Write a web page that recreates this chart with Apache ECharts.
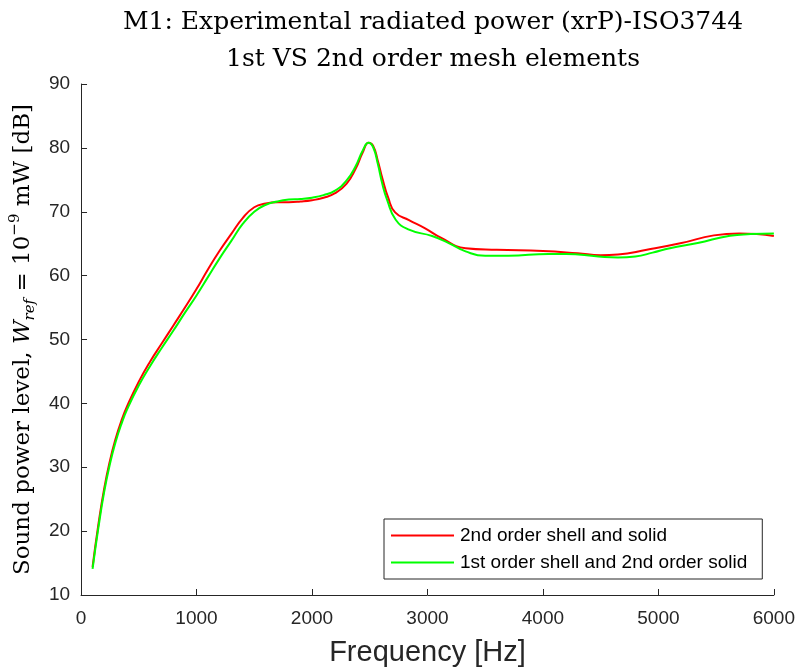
<!DOCTYPE html>
<html>
<head>
<meta charset="utf-8">
<script src="https://cdn.jsdelivr.net/npm/echarts@6/dist/echarts.min.js"></script>
<style>html,body{margin:0;padding:0;background:#fff;}#c{width:798px;height:672px;}</style>
</head>
<body>
<div id="c"></div>
<script>
const seriesNames = ['2nd order shell and solid', '1st order shell and 2nd order solid'];
const xTicks = [0, 1000, 2000, 3000, 4000, 5000, 6000];
const yTicks = [10, 20, 30, 40, 50, 60, 70, 80, 90];

const redFreq = [100,150,200,250,300,350,400,500,600,700,800,900,1000,1100,1200,1300,1400,1500,1600,1700,1800,1900,2000,2100,2200,2300,2380,2440,2490,2530,2570,2610,2660,2720,2840,2980,3120,3330,3600,4000,4300,4500,4650,4900,5200,5480,5700,5850,6000];
const redLevel = [14.4,21.0,26.6,31.0,34.5,37.3,39.6,43.4,46.6,49.4,52.2,55,57.9,61,63.9,66.5,69,70.7,71.3,71.5,71.5,71.6,71.8,72.2,72.9,74.4,76.8,79.3,80.8,80.3,78,75.2,72.2,69.9,68.7,67.4,65.9,64.3,64.05,63.85,63.5,63.2,63.3,64.05,65.1,66.3,66.6,66.5,66.2];

const greenFreq = [100,150,200,250,300,350,400,500,600,700,800,900,1000,1100,1200,1300,1400,1500,1600,1700,1800,1900,2000,2100,2200,2300,2380,2440,2490,2530,2570,2610,2650,2725,2840,3040,3184,3330,3500,3700,4050,4200,4480,4650,4800,4950,5100,5340,5620,5800,6000];
const greenLevel = [14.1,20.5,26.1,30.5,34.0,36.8,39.1,42.8,45.9,48.7,51.4,54.2,56.9,59.8,62.7,65.4,68.1,70,71.1,71.6,71.9,72,72.2,72.6,73.3,74.9,77.2,79.6,80.8,80.1,77.5,74.3,71.9,68.75,67.2,66.2,65.1,63.8,63.1,63.1,63.4,63.4,63.0,62.85,63.0,63.6,64.3,65.1,66.25,66.5,66.6];

const redData = redFreq.map((f, i) => [f, redLevel[i]]);
const greenData = greenFreq.map((f, i) => [f, greenLevel[i]]);

const axisColor = '#262626';
const chart = echarts.init(document.getElementById('c'), null, {renderer: 'canvas'});
chart.setOption({
  animation: false,
  backgroundColor: '#ffffff',
  title: {
    text: 'M1: Experimental radiated power (xrP)-ISO3744\n1st VS 2nd order mesh elements',
    left: 428, top: -1, textAlign: 'center',
    textStyle: {fontFamily: 'DejaVu Serif', fontWeight: 'normal', fontSize: 25, lineHeight: 37, color: '#000'}
  },
  grid: {left: 80, right: 21, top: 84, bottom: 76, containLabel: false},
  legend: {
    orient: 'vertical', left: 384, top: 519,
    data: seriesNames,
    icon: 'rect', itemWidth: 63, itemHeight: 2, itemGap: 8,
    padding: [7, 15, 7, 7],
    backgroundColor: '#fff', borderColor: axisColor, borderWidth: 1,
    textStyle: {fontFamily: 'Liberation Sans', fontSize: 19, color: '#000', padding: [0,0,0,1]}
  },
  xAxis: {
    type: 'value', min: 0, max: 6000, interval: 1000,
    name: 'Frequency [Hz]', nameLocation: 'middle', nameGap: 43,
    nameTextStyle: {fontFamily: 'Liberation Sans', fontSize: 29, color: axisColor},
    axisLine: {show: true, lineStyle: {color: axisColor, width: 1}},
    axisTick: {show: true, inside: true, length: 6, lineStyle: {color: axisColor}},
    axisLabel: {fontFamily: 'Liberation Sans', fontSize: 19, color: axisColor, margin: 14,
      formatter: v => String(v)},
    splitLine: {show: false}
  },
  yAxis: {
    type: 'value', min: 10, max: 90, interval: 10,
    name: 'Sound power level, {i|W}{sub|ref} = 10{sup|−9} mW [dB]',
    nameLocation: 'middle', nameGap: 43, nameRotate: 90,
    nameTextStyle: {
      fontFamily: 'DejaVu Serif', fontSize: 23, color: '#000', lineHeight: 30,
      rich: {
        i: {fontFamily: 'DejaVu Serif', fontStyle: 'italic', fontSize: 23, lineHeight: 30},
        sub: {fontFamily: 'DejaVu Serif', fontStyle: 'italic', fontSize: 15, lineHeight: 15, verticalAlign: 'bottom'},
        sup: {fontFamily: 'DejaVu Serif', fontSize: 15, lineHeight: 15, verticalAlign: 'top'}
      }
    },
    axisLine: {show: true, lineStyle: {color: axisColor, width: 1}},
    axisTick: {show: true, inside: true, length: 6, lineStyle: {color: axisColor}},
    axisLabel: {fontFamily: 'Liberation Sans', fontSize: 19, color: axisColor, margin: 11},
    splitLine: {show: false}
  },
  series: [
    {name: seriesNames[0], type: 'line', data: redData, smooth: 0.5, symbol: 'none',
     lineStyle: {color: '#ff0000', width: 2}, itemStyle: {color: '#ff0000'}, z: 2},
    {name: seriesNames[1], type: 'line', data: greenData, smooth: 0.5, symbol: 'none',
     lineStyle: {color: '#00ff00', width: 2}, itemStyle: {color: '#00ff00'}, z: 3}
  ]
});
</script>
</body>
</html>
